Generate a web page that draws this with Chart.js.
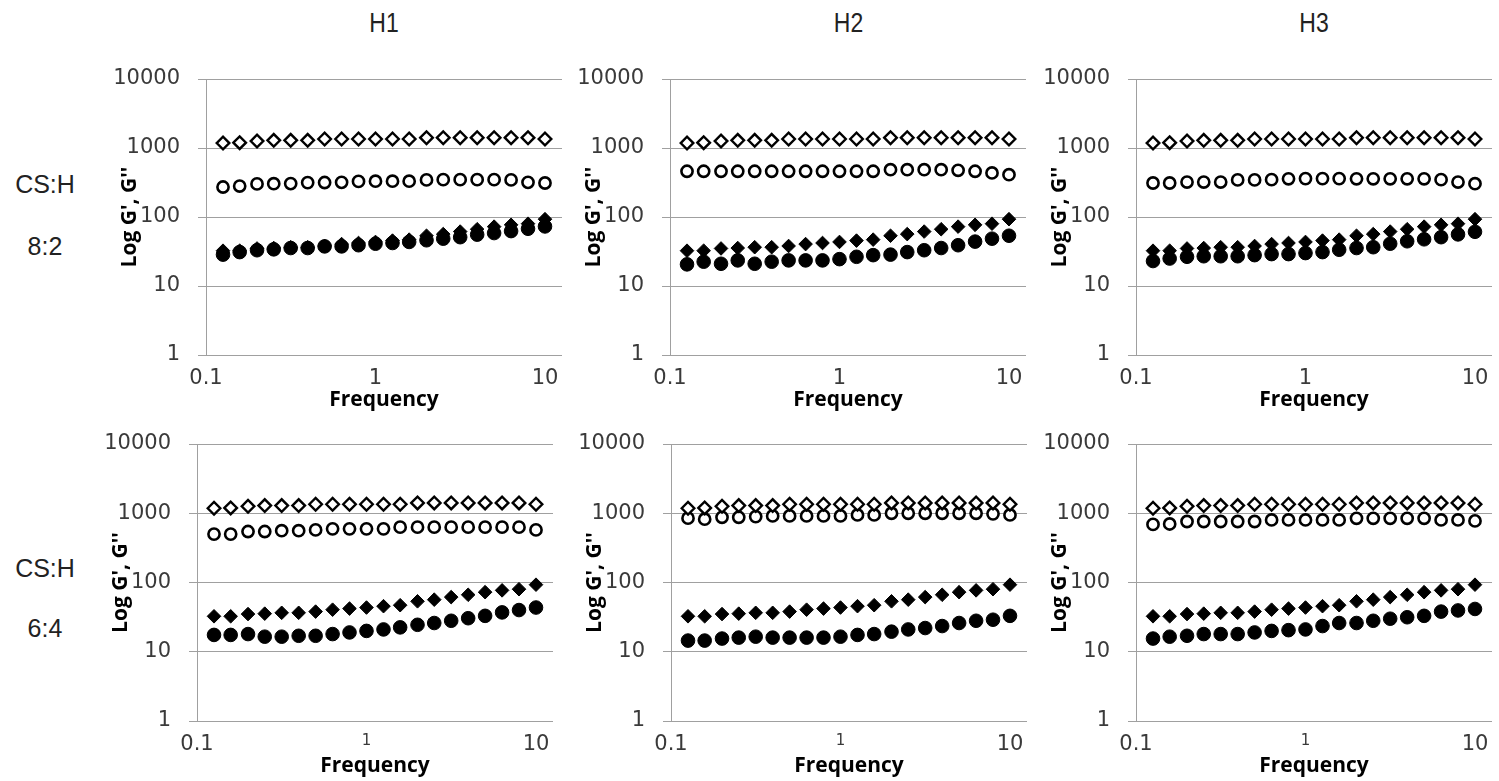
<!DOCTYPE html>
<html><head><meta charset="utf-8">
<script src="https://cdn.jsdelivr.net/npm/chart.js@4.4.1/dist/chart.umd.min.js"></script>
<style>
html,body{margin:0;padding:0;background:#fff;}
#wrap{position:relative;width:1499px;height:781px;overflow:hidden;background:#fff;}
.lbl{position:absolute;font-family:'Liberation Sans',Arial,sans-serif;color:#222;white-space:nowrap;transform:translate(-50%,-50%);}
.hd{transform:translate(-50%,-50%) scaleY(1.2);}
canvas{position:absolute;}
</style></head><body><div id="wrap"></div>
<script>
// ---- data ----
const frequency = [0.126, 0.158, 0.2, 0.251, 0.316, 0.398, 0.501, 0.631, 0.794, 1, 1.26, 1.58, 2, 2.51, 3.16, 3.98, 5.01, 6.31, 7.94, 10];
const xTickValues = [0.1, 1, 10];
const xTickLabels = ['0.1', '1', '10'];
const yTickValues = [1, 10, 100, 1000, 10000];
const yTickLabels = ['1', '10', '100', '1000', '10000'];
const columnTitles = ['H1', 'H2', 'H3'];
const rowTitles = [['CS:H', '8:2'], ['CS:H', '6:4']];

const openDiamond   = [1180, 1195, 1260, 1290, 1290, 1290, 1350, 1350, 1350, 1350, 1350, 1350, 1410, 1410, 1410, 1410, 1410, 1410, 1410, 1350];
const filledDiamond = [32.5, 32.5, 35, 35.5, 36.5, 36.5, 38, 40.5, 42, 43.5, 45.5, 47, 53.5, 56.5, 61.5, 66.5, 72.5, 77, 80, 93];

const h1_82_open   = [272, 281, 302, 304, 305, 315, 316, 318, 328, 330, 330, 330, 345, 348, 348, 348, 348, 345, 318, 311];
const h1_82_filled = [28.5, 31, 33, 34, 35.5, 35.5, 37.5, 37.5, 39, 41, 42, 43.5, 46, 48.5, 51, 55.5, 58.5, 62.5, 67.5, 73];
const h2_82_open   = [460, 460, 460, 460, 460, 460, 460, 460, 460, 460, 460, 460, 485, 485, 485, 485, 475, 460, 435, 410];
const h2_82_filled = [20.6, 22.5, 21, 23.5, 21, 22.5, 23.5, 23.5, 23.5, 24.5, 26.5, 28, 28.5, 31, 33, 35.5, 39, 44, 48.5, 53.5];
const h3_82_open   = [311, 311, 321, 321, 321, 345, 345, 348, 358, 360, 360, 360, 358, 358, 358, 358, 358, 348, 321, 304];
const h3_82_filled = [23, 25, 26.5, 27, 27, 27, 28, 29, 29, 30, 31, 33.5, 35.5, 36.5, 41, 44.5, 47.5, 51, 56, 61];
const h1_64_open   = [500, 500, 545, 545, 560, 560, 575, 595, 595, 595, 595, 630, 630, 630, 630, 630, 630, 630, 630, 575];
const h1_64_filled = [17.5, 17.5, 18, 16.5, 16.5, 17, 17, 18, 19, 20, 21, 22.5, 24.5, 26, 28, 30.5, 33, 37, 40, 43.5];
const h2_64_open   = [850, 820, 875, 875, 895, 915, 915, 915, 915, 915, 945, 945, 1000, 1000, 1000, 1000, 1000, 1000, 980, 945];
const h2_64_filled = [14.5, 14.5, 15.5, 16, 16.5, 16, 16, 16, 16, 16.5, 17.5, 18, 19.5, 21, 22, 23.5, 26, 28, 29, 33];
const h3_64_open   = [690, 700, 760, 760, 760, 760, 760, 800, 800, 800, 800, 800, 845, 845, 845, 845, 845, 800, 800, 775];
const h3_64_filled = [15.5, 16.5, 17, 18, 18, 18, 19, 20, 20.5, 21, 23.5, 26, 26, 28, 30, 31.5, 33, 38, 39.5, 41.5];

// ---- layout ----
const panels = [
  {left:206, top:79, h:276, open:h1_82_open, filled:h1_82_filled, smallMid:false},
  {left:670, top:79, h:276, open:h2_82_open, filled:h2_82_filled, smallMid:false},
  {left:1136, top:79, h:276, open:h3_82_open, filled:h3_82_filled, smallMid:false},
  {left:197, top:444, h:277, open:h1_64_open, filled:h1_64_filled, smallMid:true},
  {left:671, top:444, h:277, open:h2_64_open, filled:h2_64_filled, smallMid:true},
  {left:1136, top:444, h:277, open:h3_64_open, filled:h3_64_filled, smallMid:true}
];
const wrap = document.getElementById('wrap');

function addLabel(text, x, y, size, cls) {
  const d = document.createElement('div');
  d.className = 'lbl' + (cls ? ' ' + cls : '');
  d.textContent = text;
  d.style.left = x + 'px'; d.style.top = y + 'px'; d.style.fontSize = size + 'px';
  wrap.appendChild(d);
}
const headX = [384, 848.5, 1314];
columnTitles.forEach((t, i) => addLabel(t, headX[i], 23, 23, 'hd'));
addLabel(rowTitles[0][0], 45, 184, 25);
addLabel(rowTitles[0][1], 45, 246, 25);
addLabel(rowTitles[1][0], 45, 568, 25);
addLabel(rowTitles[1][1], 45, 628, 25);

function ds(values, style, radius, bw, fill) {
  return {
    data: frequency.map((f, i) => ({x: f, y: values[i]})),
    pointStyle: style, pointRadius: radius, pointBorderWidth: bw,
    pointBorderColor: '#000', pointBackgroundColor: fill,
    borderColor: '#000', backgroundColor: fill, showLine: false
  };
}

const W_Y = 130, PAD_T = 40, PAD_R = 20, H_X = 70, PW = 356;
const tickColor = '#3a3a3a', gridColor = '#a0a0a0';

panels.forEach(p => {
  const c = document.createElement('canvas');
  let cw = W_Y + PW + PAD_R, ch = PAD_T + p.h + H_X;
  c.width = cw; c.height = ch;
  c.style.left = (p.left - W_Y) + 'px'; c.style.top = (p.top - PAD_T) + 'px';
  c.style.width = cw + 'px'; c.style.height = ch + 'px';
  wrap.appendChild(c);
  const chart = new Chart(c, {
    type: 'scatter',
    data: {datasets: [
      ds(openDiamond, 'rectRot', 6.3, 2.4, '#fff'),
      ds(filledDiamond, 'rectRot', 6.8, 1, '#000'),
      ds(p.open, 'circle', 5.6, 2.6, '#fff'),
      ds(p.filled, 'circle', 6.8, 1, '#000')
    ]},
    options: {
      responsive: false, animation: false, devicePixelRatio: 1,
      layout: {padding: {top: PAD_T, right: PAD_R, left: 0, bottom: 0}},
      plugins: {legend: {display: false}, tooltip: {enabled: false}},
      scales: {
        x: {
          type: 'logarithmic', min: 0.1, max: 12.6, position: 'bottom',
          afterBuildTicks: s => { s.ticks = xTickValues.map(v => ({value: v})); },
          afterFit: s => { s.height = H_X; },
          grid: {display: false, drawTicks: false},
          border: {display: false},
          ticks: {
            padding: 11, color: tickColor, autoSkip: false, maxRotation: 0,
            font: ctx => ({family: 'DejaVu Sans', size: (p.smallMid && ctx.tick && ctx.tick.value === 1) ? 15 : 21}),
            callback: (v, i) => xTickLabels[i]
          },
          title: {display: true, text: 'Frequency', color: '#000',
            font: {family: 'Open Sans', weight: 'bold', size: 21}, padding: {top: 0, bottom: 12}}
        },
        y: {
          type: 'logarithmic', min: 1, max: 10000,
          afterBuildTicks: s => { s.ticks = yTickValues.map(v => ({value: v})); },
          afterFit: s => { s.width = W_Y; },
          grid: {color: gridColor, lineWidth: 1, drawTicks: true, tickLength: 8},
          border: {display: true, color: gridColor, width: 1},
          ticks: {
            padding: 18, color: tickColor, autoSkip: false,
            font: {family: 'DejaVu Sans', size: 21},
            callback: (v, i) => yTickLabels[i]
          },
          title: {display: true, text: "Log G', G''", color: '#000',
            font: {family: 'Open Sans', weight: 'bold', size: 21}, padding: {top: 41, bottom: 0}}
        }
      }
    }
  });
  // align the chart area with the target plot rectangle
  const a = chart.chartArea;
  const dh = p.h - (a.bottom - a.top);
  const dw = PW - (a.right - a.left);
  if (dh !== 0 || dw !== 0) {
    cw += dw; ch += dh;
    chart.resize(cw, ch);
  }
  const b = chart.chartArea;
  c.style.left = (p.left - b.left) + 'px';
  c.style.top = (p.top - b.top) + 'px';
});
</script></body></html>
